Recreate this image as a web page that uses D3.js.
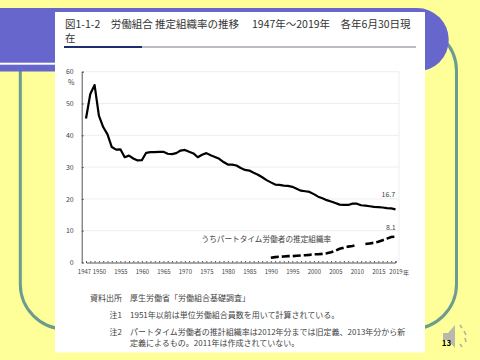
<!DOCTYPE html>
<html>
<head>
<meta charset="utf-8">
<script src="https://cdn.jsdelivr.net/npm/d3@7"></script>
<style>
  html, body { margin: 0; padding: 0; background: #ffff99; }
  svg { display: block; }
  text { font-family: "Noto Sans CJK JP", "Noto Sans", sans-serif; }
</style>
</head>
<body>
<div class="canvas"></div>
<script>
const years = d3.range(1947, 2020);
const unionRate = [
  45.3, 53.0, 55.8, 46.2, 42.6, 40.3, 36.3, 35.5, 35.6, 33.1,
  33.6, 32.7, 32.1, 32.2, 34.5, 34.7, 34.7, 34.8, 34.8, 34.2,
  34.1, 34.4, 35.2, 35.4, 34.8, 34.3, 33.1, 33.9, 34.4, 33.7,
  33.2, 32.6, 31.6, 30.8, 30.8, 30.5, 29.7, 29.1, 28.9, 28.2,
  27.6, 26.8, 25.9, 25.2, 24.5, 24.4, 24.2, 24.1, 23.8, 23.2,
  22.6, 22.4, 22.2, 21.5, 20.7, 20.2, 19.6, 19.2, 18.7, 18.2,
  18.1, 18.1, 18.5, 18.5, 18.0, 17.9, 17.7, 17.5, 17.4, 17.3,
  17.1, 17.0, 16.7
];
const partTimeYears = d3.range(1990, 2020);
// 2011 has no value
const partTimeRate = [
  1.5, 1.7, 1.8, 1.9, 2.0, 2.0, 2.1, 2.2, 2.3, 2.4,
  2.6, 2.6, 2.7, 2.9, 3.2, 3.7, 4.3, 4.7, 5.0, 5.2,
  5.5, null, 5.8, 6.0, 6.2, 6.5, 7.0, 7.5, 8.0, 8.1
];
const yTicks = [0, 10, 20, 30, 40, 50, 60];
const xTickLabels = [1947, 1950, 1955, 1960, 1965, 1970, 1975, 1980, 1985, 1990, 1995, 2000, 2005, 2010, 2015, 2019];

const titleLines = ['図1-1-2　労働組合 推定組織率の推移　 1947年～2019年　各年6月30日現', '在'];
const partTimeLabel = 'うちパートタイム労働者の推定組織率';
const notes = [
  { label: '資料出所', text: '厚生労働省「労働組合基礎調査」', y: 301 },
  { label: '注1', text: '1951年以前は単位労働組合員数を用いて計算されている。', y: 318 },
  { label: '注2', text: 'パートタイム労働者の推計組織率は2012年分までは旧定義、2013年分から新', y: 334.5 },
  { label: '', text: '定義によるもの。2011年は作成されていない。', y: 346 }
];

const svg = d3.select('.canvas')
  .append('svg')
    .attr('width', 480)
    .attr('height', 360);

// slide background
svg.append('rect').attr('width', 480).attr('height', 360).attr('fill', '#ffff99');
svg.append('rect')
  .attr('x', 20.3).attr('y', 26).attr('width', 436.2).attr('height', 303).attr('rx', 45)
  .attr('fill', 'none').attr('stroke', '#6b9c90').attr('stroke-width', 3);
svg.append('path')
  .attr('d', 'M0,8H417A31.5,31.5 0 0 1 417,71.5H0Z')
  .attr('fill', '#6666cc');
svg.append('rect').attr('x', 0).attr('y', 62.7).attr('width', 56).attr('height', 2).attr('fill', '#ffffff');
svg.append('rect').attr('x', 55).attr('y', 12).attr('width', 370).attr('height', 340.5).attr('fill', '#ffffff');

// title
svg.append('g').selectAll('text')
  .data(titleLines)
  .join('text')
    .attr('x', 65)
    .attr('y', (d, i) => 28 + i * 14)
    .attr('font-size', 10.5)
    .attr('fill', '#333333')
    .text(d => d);
svg.append('rect').attr('x', 64).attr('y', 46).attr('width', 352).attr('height', 2).attr('fill', '#bbbbc4');
svg.append('rect').attr('x', 64).attr('y', 46).attr('width', 78).attr('height', 2).attr('fill', '#1f2d6d');

const x = d3.scalePoint()
  .domain(years)
  .range([86, 395.5]);
const y = d3.scaleLinear()
  .domain([0, 60])
  .range([262.5, 71.7]);

const graph = svg.append('g');

// gridlines
graph.append('g').selectAll('line')
  .data(yTicks.filter(d => d > 0))
  .join('line')
    .attr('x1', 82).attr('x2', 399)
    .attr('y1', d => y(d)).attr('y2', d => y(d))
    .attr('stroke', '#eeeeee').attr('stroke-width', 1);
graph.append('line')
  .attr('x1', 399).attr('x2', 399).attr('y1', y(60)).attr('y2', y(0))
  .attr('stroke', '#eeeeee');

// axes
const yAxis = d3.axisLeft(y).tickValues(yTicks).tickSize(-2).tickPadding(8);
const xAxis = d3.axisBottom(x).tickValues(years).tickSize(-1.5).tickPadding(7)
  .tickFormat(d => xTickLabels.includes(d) ? d : '');

const yAxisGroup = graph.append('g').attr('transform', 'translate(81.7,0)').call(yAxis);
const xAxisGroup = graph.append('g').attr('transform', 'translate(0,262.5)').call(xAxis);

[yAxisGroup, xAxisGroup].forEach(g => {
  g.selectAll('path.domain').attr('stroke', '#555555').attr('stroke-width', 1);
  g.selectAll('line').attr('stroke', '#555555');
  g.selectAll('text').attr('font-size', 6).attr('fill', '#444444');
});
yAxisGroup.selectAll('text').attr('font-size', 7);
xAxisGroup.selectAll('text').filter(d => d === 1947).attr('dx', -2);

// lines
const line = d3.line()
  .defined(d => d[1] !== null)
  .x(d => x(d[0]))
  .y(d => y(d[1]));
graph.append('path')
  .attr('d', line(years.map((d, i) => [d, unionRate[i]])))
  .attr('fill', 'none')
  .attr('stroke', '#000000')
  .attr('stroke-width', 2.2)
  .attr('stroke-linejoin', 'round');
graph.append('path')
  .attr('d', line(partTimeYears.map((d, i) => [d, partTimeRate[i]])))
  .attr('fill', 'none')
  .attr('stroke', '#000000')
  .attr('stroke-width', 2.6)
  .attr('stroke-dasharray', '8 3');

// labels
const small = (tx, ty, s, size) => graph.append('text')
  .attr('x', tx).attr('y', ty).attr('font-size', size).attr('fill', '#444444').text(s);
small(68, 84.5, '%', 7);
small(403, 274.5, '年', 6);
small(381.5, 197, '16.7', 7);
small(386, 230, '8.1', 7);
small(201.5, 242, partTimeLabel, 7.65);

// notes
const noteGroup = svg.append('g').attr('font-size', 8).attr('fill', '#444444');
noteGroup.selectAll('text.label')
  .data(notes)
  .join('text')
    .attr('class', 'label')
    .attr('x', 122).attr('y', d => d.y)
    .attr('text-anchor', 'end')
    .text(d => d.label);
noteGroup.selectAll('text.body')
  .data(notes)
  .join('text')
    .attr('class', 'body')
    .attr('x', 130).attr('y', d => d.y)
    .text(d => d.text);

// sound icon and page number
svg.append('path')
  .attr('d', 'M443,333H448L455,325V348L448,340H443Z')
  .attr('fill', '#b8b8ac');
svg.append('g').selectAll('line')
  .data([[460, 325, 462, 328], [464, 331, 466, 335], [465, 338, 466, 342], [460, 344, 462, 347]])
  .join('line')
    .attr('x1', d => d[0]).attr('y1', d => d[1]).attr('x2', d => d[2]).attr('y2', d => d[3])
    .attr('stroke', '#b0b0a4').attr('stroke-width', 1.5);
svg.append('text')
  .attr('x', 446.5).attr('y', 346)
  .attr('text-anchor', 'middle')
  .attr('font-size', 8).attr('font-weight', 'bold').attr('fill', '#000000')
  .text('13');
</script>
</body>
</html>
